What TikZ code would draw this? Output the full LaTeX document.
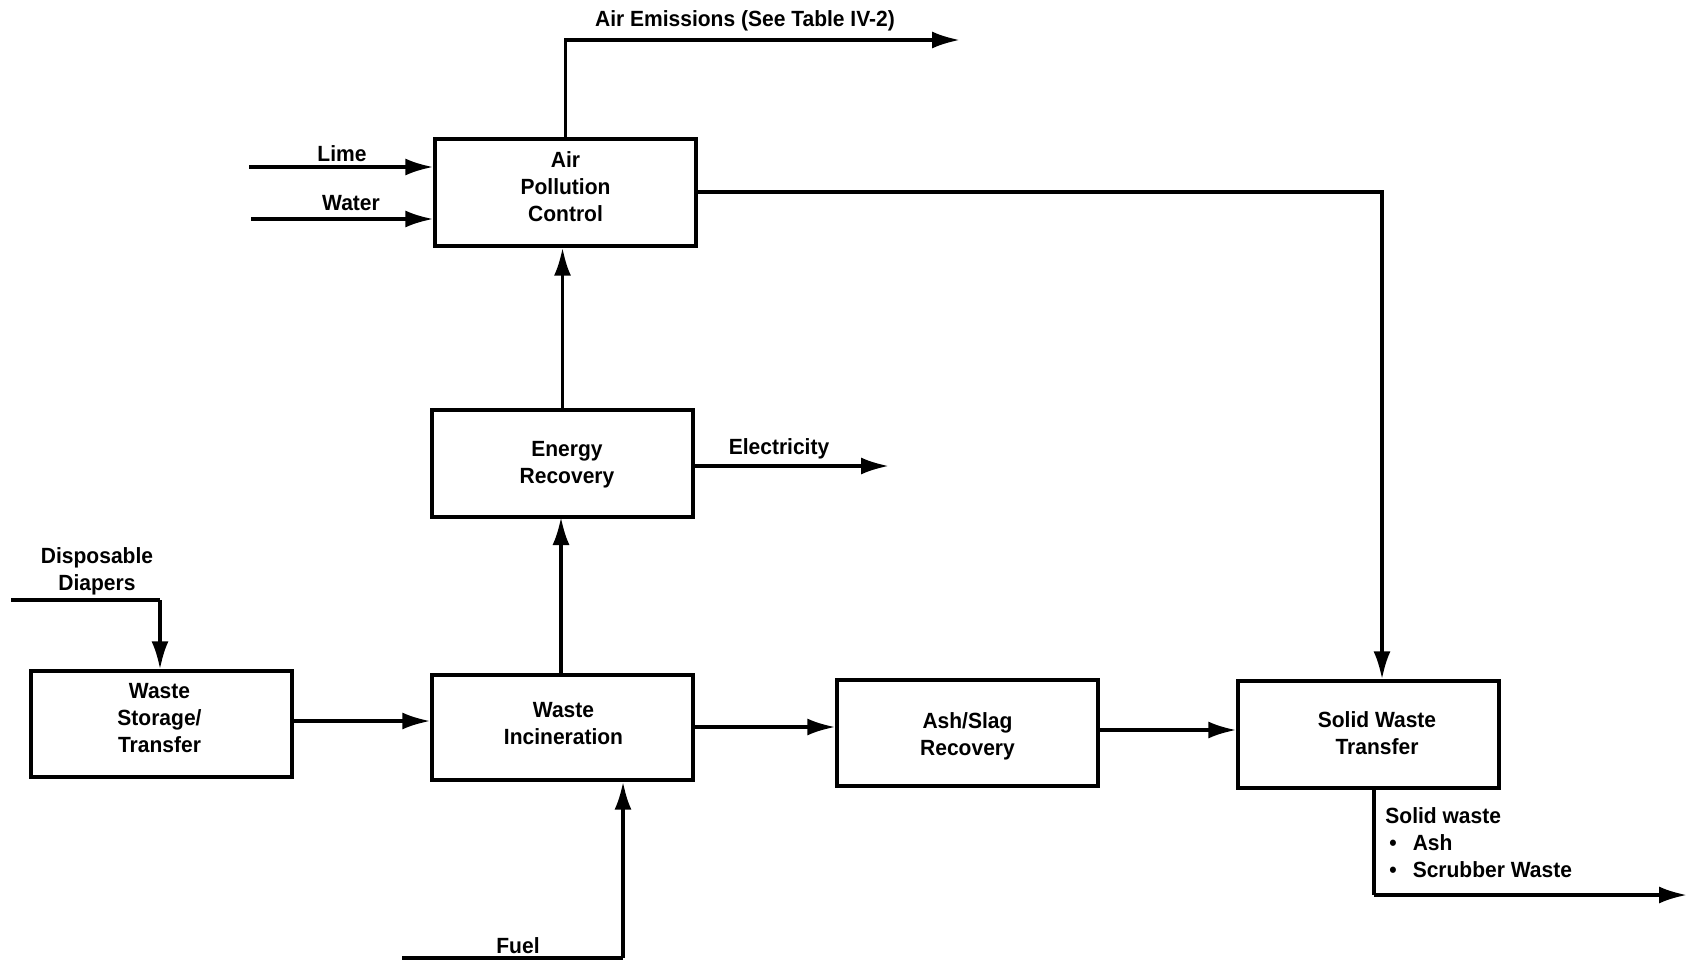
\documentclass[tikz,border=0pt]{standalone}
\usepackage{fontspec}
\setmainfont{Liberation Sans}[FakeStretch=0.955]
\usetikzlibrary{arrows.meta}
\begin{document}
\begin{tikzpicture}[x=0.5pt,y=-0.5pt,
  every node/.style={font=\fontsize{11}{13.5}\selectfont\bfseries},
  procbox/.style={draw,line width=1.7pt,minimum width=130.5pt,minimum height=53pt,inner sep=0pt},
  boxtext/.style={align=center,inner sep=0pt},
  flow/.style={line width=1.7pt,-{Latex[length=14pt,width=8.5pt]}},
  plain/.style={line width=1.7pt},
  lbl/.style={inner sep=0pt}]
\useasboundingbox (0,0) rectangle (1692,963);

% process boxes
\node[procbox,minimum height=53.5pt] (apc) at (565.5,192.5) {};
\node[procbox,minimum height=53.5pt] (er)  at (562.5,463.5) {};
\node[procbox,minimum height=52.5pt] (wi)  at (562.5,727.5) {};
\node[procbox] (wst) at (161.5,724) {};
\node[procbox] (asr) at (967.5,733) {};
\node[procbox,minimum height=53.5pt] (swt) at (1368.5,734.5) {};

% box captions
\node[boxtext] (apct) at (565.5,187)  {Air\\Pollution\\Control};
\node[boxtext] (ert)  at (567,464.5)  {Energy\\Recovery};
\node[boxtext] (wit)  at (563.5,724)  {Waste\\Incineration};
\node[boxtext] (wstt) at (159.5,718.5) {Waste\\Storage/\\Transfer};
\node[boxtext] (asrt) at (967.5,736)  {Ash/Slag\\Recovery};
\node[boxtext] (swtt) at (1377,733.5) {Solid Waste\\Transfer};

% free ends of the feed and product lines
\coordinate (limein)  at (249,167);
\coordinate (waterin) at (251,219);
\coordinate (airout)  at (960,40);
\coordinate (elecout) at (889,466);
\coordinate (dipin)   at (11,600);
\coordinate (dipturn) at (160,600);
\coordinate (fuelin)  at (402,958);
\coordinate (fuelturn) at (623,958);
\coordinate (apcturn) at (1382,192);
\coordinate (swturn)  at (1374,895);
\coordinate (swout)   at (1687,895);

% inputs to air pollution control
\draw[flow] (limein) -- (limein -| apc.west);
\draw[flow] (waterin) -- (waterin -| apc.west);
\node[lbl] (lime) at (342,154) {Lime};
\node[lbl] (water) at (351,203) {Water};

% air emissions
\draw[flow] (apc.north) |- (airout);
\node[lbl] (airlbl) at (745,21) {Air Emissions (See Table IV-2)};

% scrubber residue to solid waste transfer
\draw[flow] (apcturn -| apc.east) -- (apcturn) -- (apcturn |- swt.north);

% main process chain
\draw[flow] (er.north) -- (er.north |- apc.south);
\draw[flow] (561,675) -- (561,517);
\draw[flow] (elecout -| er.east) -- (elecout);
\node[lbl] (eleclbl) at (779,449) {Electricity};

\draw[plain] (dipin) -- (dipturn);
\draw[flow] (dipturn) -- (dipturn |- wst.north);
\node[lbl,align=center] (diplbl) at (97,571) {Disposable\\Diapers};

\draw[flow] (wst.east |- 0,721) -- (wi.west |- 0,721);
\draw[flow] (wi.east |- 0,727) -- (asr.west |- 0,727);
\draw[flow] (asr.east |- 0,730) -- (swt.west |- 0,730);

% fuel feed
\draw[plain] (fuelin) -- (fuelturn);
\draw[flow] (fuelturn) -- (fuelturn |- wi.south);
\node[lbl] (fuellbl) at (518,946) {Fuel};

% solid waste out
\draw[plain] (swturn |- swt.south) -- (swturn);
\draw[flow] (swturn) -- (swout);
\node[lbl,anchor=north west,align=left] (swlbl) at (1385,807) {Solid waste\\\hspace*{2pt}\textbullet\hspace{8pt}Ash\\\hspace*{2pt}\textbullet\hspace{8pt}Scrubber Waste};
\end{tikzpicture}
\end{document}
